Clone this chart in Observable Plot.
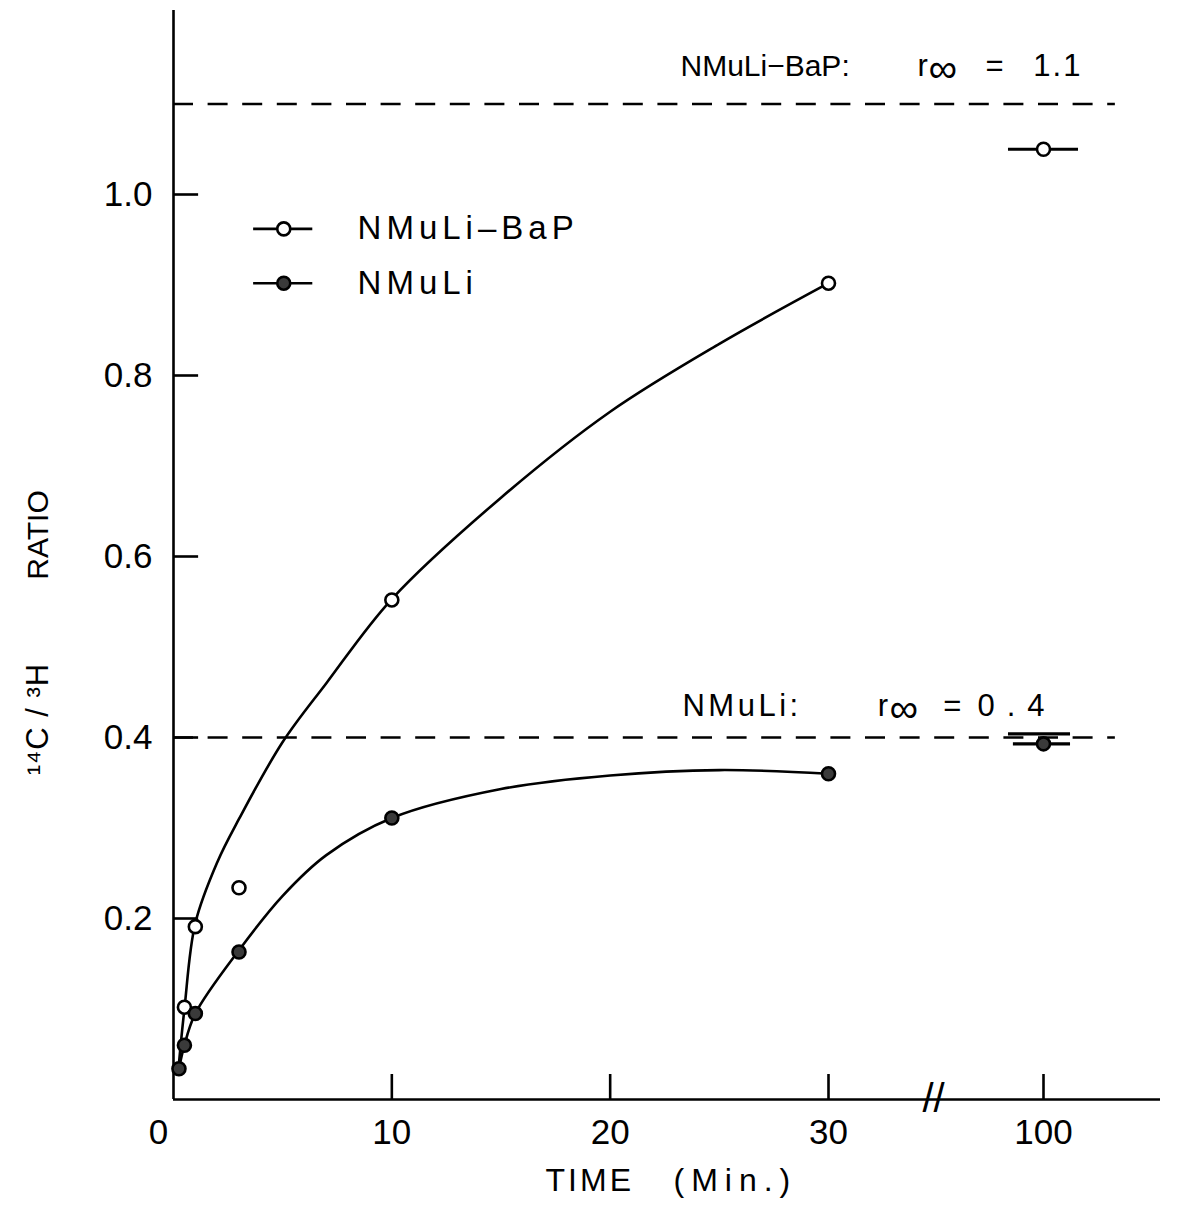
<!DOCTYPE html>
<html>
<head>
<meta charset="utf-8">
<script src="https://cdn.jsdelivr.net/npm/d3@7"></script>
<script src="https://cdn.jsdelivr.net/npm/@observablehq/plot@0.6"></script>
<style>
  html, body { margin: 0; padding: 0; background: #fff; }
  svg { font-family: "Liberation Sans", Arial, sans-serif; }
</style>
</head>
<body>
<div id="chart"></div>
<script>
// ---- measured points (time in minutes, 14C/3H ratio) ----
const bapTime  = [0.5, 1, 3, 10, 30, 100];
const bapRatio = [0.102, 0.191, 0.234, 0.552, 0.902, 1.05];
const nmuTime  = [0.25, 0.5, 1, 3, 10, 30, 100];
const nmuRatio = [0.034, 0.060, 0.095, 0.163, 0.311, 0.360, 0.393];

// ---- fitted curves ----
const bapCurveTime  = [0.25, 0.5, 1, 2, 3, 5, 7, 10, 15, 20, 25, 30];
const bapCurveRatio = [0.04, 0.10, 0.195, 0.262, 0.31, 0.395, 0.46, 0.553, 0.665, 0.76, 0.835, 0.902];
const nmuCurveTime  = [0.25, 0.5, 1, 3, 5, 7, 10, 15, 20, 25, 30];
const nmuCurveRatio = [0.034, 0.060, 0.095, 0.165, 0.225, 0.27, 0.311, 0.343, 0.358, 0.364, 0.360];

// ---- 100-min points: horizontal bars ----
const barSeries = ["NMuLi-BaP", "NMuLi", "NMuLi"];
const barRatio  = [1.05, 0.404, 0.393];
const barFrom   = [88.6, 88.6, 90.2];
const barTo     = [111.4, 108.8, 108.8];

// ---- limits r_inf ----
const limitRatio = [1.1, 0.4];
const limitEnd = 123.4;

// ---- axis ticks ----
const xTicks = [0, 10, 20, 30, 100];
const xTickLabels = ["0", "10", "20", "30", "100"];
const yTicks = [0.2, 0.4, 0.6, 0.8, 1.0];
const yTickLen = 1.15;    // tick length in minutes (inward)

// ---- legend ----
const legendNames = ["NMuLi\u2013BaP", "NMuLi"];
const legendRatio = [0.962, 0.902];

// ---- letter spacing of lettered text (key: text|font size) ----
const spacing = {"TIME|32": 3, "(Min.)|32": 7, "\u00b9\u2074C / \u00b3H|31": 1,
  "1.1|31": 2, "0.4|31": 12, "NMuLi:|31": 3.5, "NMuLi\u2013BaP|33": 5, "NMuLi|33": 5};

const bap = bapTime.map((t, i) => ({t, r: bapRatio[i]}));
const nmu = nmuTime.map((t, i) => ({t, r: nmuRatio[i]}));
const bapCurve = bapCurveTime.map((t, i) => ({t, r: bapCurveRatio[i]}));
const nmuCurve = nmuCurveTime.map((t, i) => ({t, r: nmuCurveRatio[i]}));
const bars = barSeries.map((s, i) => ({s, r: barRatio[i], x1: barFrom[i], x2: barTo[i]}));
const xt = xTicks.map((t, i) => ({t, label: xTickLabels[i]}));
const legend = legendNames.map((n, i) => ({n, r: legendRatio[i], open: i === 0}));

const W = 1177, H = 1205;
const SW = 2.6;
const txt = (s, o) => Plot.text([s], {text: d => d, ...o});

const chart = Plot.plot({
  width: W,
  height: H,
  marginLeft: 173,
  marginRight: 17,
  marginTop: 10,
  marginBottom: 106,
  style: {fontFamily: "'Liberation Sans', Arial, sans-serif", background: "white", color: "black"},
  x: {type: "linear", domain: [0, 30, 100, 138.1], range: [173, 828, 1043, 1160], axis: null},
  y: {domain: [0, 1.2], range: [1099, 13], axis: null},
  marks: [
    // axes lines
    Plot.ruleX([0], {stroke: "black", strokeWidth: SW}),
    Plot.ruleY([0], {stroke: "black", strokeWidth: SW}),
    // y ticks (pointing inward) + labels
    Plot.ruleY(yTicks, {x1: 0, x2: yTickLen, stroke: "black", strokeWidth: SW}),
    Plot.text(yTicks, {x: 0, y: d => d, text: d => d.toFixed(1), textAnchor: "end", dx: -21, fontSize: 35, lineAnchor: "middle"}),
    // x ticks (pointing inward) + labels
    Plot.axisX(xTicks.slice(1), {anchor: "bottom", tickSize: -25, tickFormat: () => "", strokeWidth: SW, label: null}),
    Plot.text(xt.slice(1), {x: "t", y: 0, text: "label", dy: 33, fontSize: 35, lineAnchor: "middle"}),
    Plot.text(xt.slice(0, 1), {x: "t", y: 0, text: "label", dy: 33, dx: -15, fontSize: 35, lineAnchor: "middle"}),
    // axis break
    txt("//", {x: 64.2, y: 0, fontSize: 40, fill: "black", lineAnchor: "middle"}),
    // axis titles
    txt("TIME", {x: 17.04, y: -0.0895, textAnchor: "start", fontSize: 32, lineAnchor: "middle"}),
    txt("(Min.)", {x: 22.9, y: -0.0895, textAnchor: "start", fontSize: 32, lineAnchor: "middle"}),
    txt("RATIO", {x: -6.21, y: 0.6238, rotate: -90, fontSize: 30, lineAnchor: "middle"}),
    txt("\u00b9\u2074C / \u00b3H", {x: -6.21, y: 0.4204, rotate: -90, fontSize: 31, lineAnchor: "middle"}),
    // limits
    Plot.ruleY(limitRatio, {x1: 0, x2: limitEnd, stroke: "black", strokeWidth: SW, strokeDasharray: "20,14.6"}),
    // annotations
    txt("NMuLi\u2212BaP:", {x: 23.22, y: 1.131, textAnchor: "start", fontSize: 30, lineAnchor: "bottom"}),
    txt("r", {x: 58.98, y: 1.131, textAnchor: "start", fontSize: 31, lineAnchor: "bottom"}),
    txt("\u221e", {x: 62.56, y: 1.131, textAnchor: "start", fontSize: 40, dy: 6, lineAnchor: "bottom"}),
    txt("=", {x: 81.1, y: 1.131, textAnchor: "start", fontSize: 31, lineAnchor: "bottom"}),
    txt("1.1", {x: 96.7, y: 1.131, textAnchor: "start", fontSize: 31, lineAnchor: "bottom"}),
    txt("NMuLi:", {x: 23.31, y: 0.424, textAnchor: "start", fontSize: 31, lineAnchor: "bottom"}),
    txt("r", {x: 46.0, y: 0.424, textAnchor: "start", fontSize: 31, lineAnchor: "bottom"}),
    txt("\u221e", {x: 49.9, y: 0.424, textAnchor: "start", fontSize: 40, dy: 6, lineAnchor: "bottom"}),
    txt("=", {x: 67.4, y: 0.424, textAnchor: "start", fontSize: 31, lineAnchor: "bottom"}),
    txt("0.4", {x: 78.5, y: 0.424, textAnchor: "start", fontSize: 31, lineAnchor: "bottom"}),
    // fitted curves
    Plot.line(bapCurve, {x: "t", y: "r", curve: "catmull-rom", stroke: "black", strokeWidth: SW}),
    Plot.line(nmuCurve, {x: "t", y: "r", curve: "catmull-rom", stroke: "black", strokeWidth: SW}),
    // 100-min bars
    Plot.ruleY(bars, {y: "r", x1: "x1", x2: "x2", stroke: "black", strokeWidth: SW + 0.6}),
    // points
    Plot.dot(bap, {x: "t", y: "r", r: 6.5, stroke: "black", strokeWidth: SW, fill: "white"}),
    Plot.dot(nmu, {x: "t", y: "r", r: 6.5, stroke: "black", strokeWidth: SW, fill: "#3a3a3a"}),
    // legend
    Plot.ruleY(legend, {y: "r", x1: 3.67, x2: 6.38, stroke: "black", strokeWidth: SW}),
    Plot.dot(legend, {x: 5.05, y: "r", r: 6.5, stroke: "black", strokeWidth: SW, fill: d => d.open ? "white" : "#3a3a3a"}),
    Plot.text(legend, {x: 8.43, y: "r", text: "n", textAnchor: "start", fontSize: 33, lineAnchor: "middle"})
  ]
});

// apply the hand-lettered wide letter spacing to the matching labels
d3.select(chart).selectAll("text").each(function () {
  const g = this.closest("[font-size]");
  const fs = g ? g.getAttribute("font-size") : "";
  const s = spacing[this.textContent + "|" + fs];
  if (s != null) this.style.letterSpacing = s + "px";
});

document.getElementById("chart").appendChild(chart);
</script>
</body>
</html>
